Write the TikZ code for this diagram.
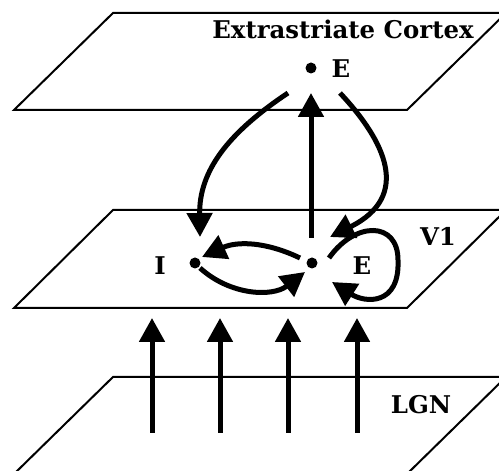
\documentclass[tikz,border=0pt]{standalone}
\usepackage{fontspec}
\setmainfont{DejaVu Serif}
\usetikzlibrary{arrows.meta}

\tikzset{
  plane/.style={line width=1pt},
  conn/.style={line width=2.5pt, -{Triangle[length=12pt,width=12.5pt]}},
  cell/.style={circle, fill=black, inner sep=0pt, minimum size=5.5pt},
  lbl/.style={font=\fontsize{12.2}{14}\selectfont\bfseries, inner sep=0pt}
}

\begin{document}
\begin{tikzpicture}[x=0.5pt,y=0.5pt]
  \useasboundingbox (0,0) rectangle (499,471);
  \clip (0,0) rectangle (499,471);

  % Planos
  \draw[plane] (14,361) -- (407,361) -- (506,458) -- (113,458) -- cycle;
  \draw[plane] (14,163) -- (407,163) -- (506,261) -- (113,261) -- cycle;
  \draw[plane] (14,-3) -- (407,-3) -- (506,94) -- (113,94) -- cycle;

  % Etiquetas de las capas
  \node[lbl] (extra) at (343,442) {Extrastriate Cortex};
  \node[lbl] (v1) at (438,235) {V1};
  \node[lbl] (lgn) at (421,66) {LGN};

  % Neuronas
  \node[cell] (eX) at (311,403) {};
  \node[lbl] (eXlbl) at (341,402) {E};
  \node[cell] (iV1) at (195,208) {};
  \node[lbl] (iV1lbl) at (160,205) {I};
  \node[cell] (eV1) at (312,208) {};
  \node[lbl] (eV1lbl) at (362,205) {E};

  % Extremos de las conexiones
  \coordinate (eXsw) at (288,378);
  \coordinate (eXs) at (311,378);
  \coordinate (eXse) at (340,378);
  \coordinate (iV1n) at (200,234);
  \coordinate (iV1e) at (202,214);
  \coordinate (iV1se) at (200,203);
  \coordinate (eV1n) at (311,233);
  \coordinate (eV1ne) at (330,234);
  \coordinate (eV1w) at (300,213);
  \coordinate (eV1sw) at (305,199);
  \coordinate (eV1loop) at (329,213);
  \coordinate (loopR) at (398,211);
  \coordinate (eV1se) at (332,189);

  % Conexiones
  \draw[conn] (eXsw) .. controls (228,338) and (199,300) .. (iV1n);
  \draw[conn] (eV1n) -- (eXs);
  \draw[conn] (eXse) .. controls (385,330) and (412,275) .. (eV1ne);
  \draw[conn] (eV1w) to[bend right=25] (iV1e);
  \draw[conn] (iV1se) to[bend right=40] (eV1sw);
  \draw[conn] (eV1loop) .. controls (355,250) and (398,250) .. (loopR)
    .. controls (400,165) and (365,168) .. (eV1se);

  % Entradas desde LGN
  \foreach \x [count=\i] in {152,220,288,357} {
    \coordinate (lgn\i) at (\x,38);
    \coordinate (v1in\i) at (\x,153);
    \draw[conn] (lgn\i) -- (v1in\i);
  }
\end{tikzpicture}
\end{document}
